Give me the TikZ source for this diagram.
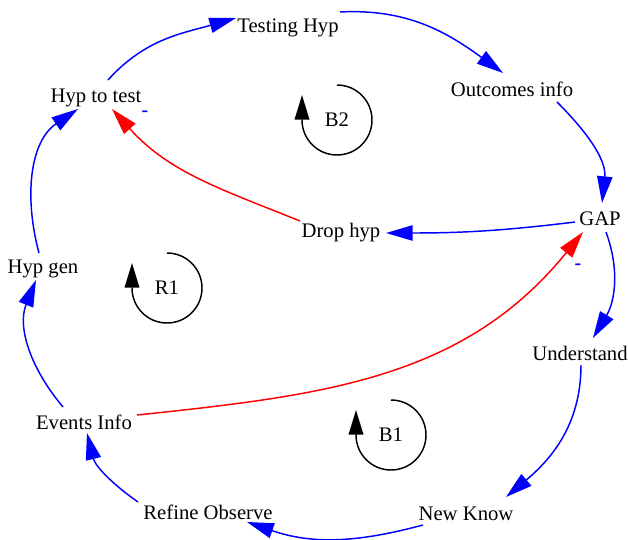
\documentclass[tikz,border=0pt]{standalone}
\usepackage{fontspec}
\setmainfont{Liberation Serif}
\usetikzlibrary{arrows.meta}

\begin{document}
\begin{tikzpicture}[
      x=0.75pt, y=0.75pt,
      var/.style={font=\fontsize{15.5}{18}\selectfont, inner sep=2pt},
      sign/.style={font=\fontsize{15}{16}\selectfont\bfseries, text=blue, inner sep=0pt},
      loopname/.style={font=\fontsize{15.5}{18}\selectfont, inner sep=0pt},
      poslink/.style={draw=blue, line width=1.1pt,
                  -{Triangle[length=20pt, width=11.5pt]}},
      neglink/.style={draw=red, line width=1.1pt,
                  -{Triangle[length=20pt, width=11.5pt]}},
      looparr/.style={draw=black, line width=1.1pt,
                  -{Triangle[length=18.5pt, width=11pt]}}
    ]
    \useasboundingbox (0,0) rectangle (628,-539);

    % --- variables ---------------------------------------------------------
    \node[var] (testing)    at (288,-28)  {Testing Hyp};
    \node[var] (outcomes)   at (512,-89)  {Outcomes info};
    \node[var] (hyptest)    at (96,-98)   {Hyp to test};
    \node[var] (gap)        at (600,-219) {GAP};
    \node[var] (drop)       at (341,-233) {Drop hyp};
    \node[var] (hypgen)     at (43,-269)  {Hyp gen};
    \node[var] (understand) at (580,-353) {Understand};
    \node[var] (events)     at (84,-422)  {Events Info};
    \node[var] (refine)     at (208,-512) {Refine Observe};
    \node[var] (newknow)    at (466,-514) {New Know};

    % --- loop markers ------------------------------------------------------
    \node[loopname] (b2) at (337,-120) {B2};
    \node[loopname] (r1) at (167,-288) {R1};
    \node[loopname] (b1) at (391,-435) {B1};
    \foreach \lp in {b2,r1,b1}
      \draw[looparr] ([yshift=35*0.75pt]\lp.center)
            arc[start angle=90, end angle=-180, radius=35] -- ++(0,25);

    % --- polarity signs ----------------------------------------------------
    \node[sign] (minushyp) at (145,-114) {-};
    \node[sign] (minusgap) at (578,-267) {-};

    % --- outer circle (blue links) -----------------------------------------
    \draw[poslink] ([shift={(12,18)}]hyptest.center) to[out=48, in=196]
               ([shift={(-52,10)}]testing.center);
    \draw[poslink] ([shift={(52,16)}]testing.center) to[out=3, in=144]
               ([shift={(-9,16)}]outcomes.center);
    \draw[poslink] ([shift={(45,-13)}]outcomes.center) to[out=-45, in=84]
               ([shift={(2,16)}]gap.center);
    \draw[poslink] ([shift={(6,-13)}]gap.center) to[out=-70, in=59]
               ([shift={(13,15)}]understand.center);
    \draw[poslink] ([shift={(1,-12)}]understand.center) to[out=-90, in=40]
               ([shift={(40,17)}]newknow.center);
    \draw[poslink] ([shift={(-43,-11)}]newknow.center) to[out=195, in=-19]
               ([shift={(39,-10)}]refine.center);
    \draw[poslink] ([shift={(-70,10)}]refine.center) to[out=145, in=-76]
               ([shift={(3,-11)}]events.center);
    \draw[poslink] ([shift={(-21,15)}]events.center) to[out=130, in=-112]
               ([shift={(-7,-11)}]hypgen.center);
    \draw[poslink] ([shift={(-4,16)}]hypgen.center) to[out=105, in=214]
               ([shift={(-18,-11)}]hyptest.center);

    % --- inner links -------------------------------------------------------
    \draw[poslink] ([shift={(-25,-3)}]gap.center) to[out=187, in=0]
               ([shift={(45,0)}]drop.center);
    \draw[neglink] ([shift={(-41,12)}]drop.center) to[out=158, in=-48]
               ([shift={(16,-11)}]hyptest.center);
    \draw[neglink] ([shift={(53,7)}]events.center) to[out=6, in=-129]
               ([shift={(-17,-13)}]gap.center);
  \end{tikzpicture}
\end{document}
